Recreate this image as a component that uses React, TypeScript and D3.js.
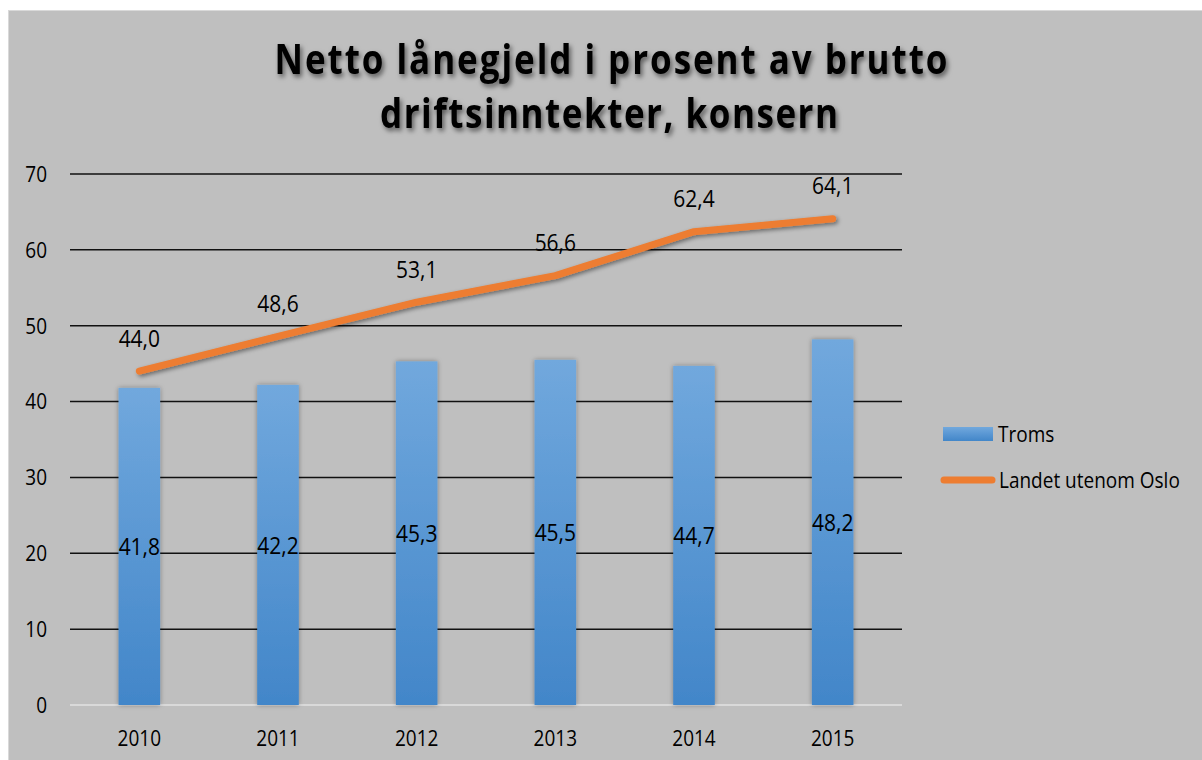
import React from "react";
import * as d3 from "d3";

const years = ["2010", "2011", "2012", "2013", "2014", "2015"];
const troms = [41.8, 42.2, 45.3, 45.5, 44.7, 48.2];
const landet = [44.0, 48.6, 53.1, 56.6, 62.4, 64.1];
const yTicks = [0, 10, 20, 30, 40, 50, 60, 70];
const titleLines = ["Netto lånegjeld i prosent av brutto", "driftsinntekter, konsern"];
const seriesNames = ["Troms", "Landet utenom Oslo"];

const W = 1202;
const H = 760;
const FONT = "'Open Sans', 'DejaVu Sans', sans-serif";
const SY = 1.15;

function T(props: {
  x: number;
  y: number;
  anchor?: "start" | "middle" | "end";
  size: number;
  children: React.ReactNode;
  middle?: boolean;
}) {
  const { x, y, anchor = "start", size, children, middle = true } = props;
  return (
    <text
      transform={`translate(${x},${y}) scale(1,${SY})`}
      dy={middle ? "0.36em" : undefined}
      textAnchor={anchor}
      fontFamily={FONT}
      fontSize={size}
      fill="#000"
    >
      {children}
    </text>
  );
}

export default function App() {
  const x = d3.scaleBand<string>().domain(years).range([70, 902]).paddingInner(0.7).paddingOuter(0.35);
  const y = d3.scaleLinear().domain([0, 70]).range([705, 174]);
  const fmt = (v: number) => v.toFixed(1).replace(".", ",");
  const cx = (yr: string) => (x(yr) as number) + x.bandwidth() / 2;
  const line = d3
    .line<number>()
    .x((_, i) => cx(years[i]))
    .y((d) => y(d))
    .curve(d3.curveLinear);

  return (
    <svg
      width={W}
      height={H}
      style={{ position: "absolute", left: 0, top: 0, display: "block" }}
      xmlns="http://www.w3.org/2000/svg"
    >
      <defs>
        <linearGradient id="barGrad" x1="0" y1="0" x2="0" y2="1">
          <stop offset="0%" stopColor="#71a8dd" />
          <stop offset="100%" stopColor="#4286c9" />
        </linearGradient>
        <filter id="shadow" x="-20%" y="-20%" width="140%" height="140%">
          <feDropShadow dx="2" dy="2" stdDeviation="2" floodColor="#000" floodOpacity="0.45" />
        </filter>
        <filter id="barShadow" x="-30%" y="-5%" width="160%" height="110%">
          <feDropShadow dx="0" dy="0" stdDeviation="2.5" floodColor="#000" floodOpacity="0.35" />
        </filter>
        <filter id="titleShadow" x="-5%" y="-20%" width="110%" height="150%">
          <feDropShadow dx="2" dy="3" stdDeviation="2.5" floodColor="#000" floodOpacity="0.55" />
        </filter>
      </defs>
      <rect x={0} y={0} width={W} height={H} fill="#ffffff" />
      <rect x={8.5} y={10.5} width={W} height={H} fill="#bfbfbf" stroke="#d9d9d9" strokeWidth={1} />

      {/* title */}
      <g filter="url(#titleShadow)" fontFamily={FONT} fontWeight={700} fontSize={35} fill="#000">
        <text
          transform={`translate(611,74) scale(1,1.2)`}
          textAnchor="middle"
          textLength={673}
          lengthAdjust="spacing"
        >
          {titleLines[0]}
        </text>
        <text
          transform={`translate(609,128) scale(1,1.2)`}
          textAnchor="middle"
          textLength={458}
          lengthAdjust="spacing"
        >
          {titleLines[1]}
        </text>
      </g>

      {/* gridlines */}
      {yTicks.map((t) => (
        <line
          key={t}
          x1={70}
          x2={902}
          y1={y(t)}
          y2={y(t)}
          stroke={t === 0 ? "#d9d9d9" : "#111"}
          strokeWidth={t === 0 ? 2 : 1.5}
        />
      ))}
      {yTicks.map((t) => (
        <T key={"l" + t} x={47} y={y(t)} anchor="end" size={19}>
          {t}
        </T>
      ))}

      {/* bars */}
      <g filter="url(#barShadow)">
        {troms.map((v, i) => (
          <rect
            key={years[i]}
            x={x(years[i])}
            y={y(v)}
            width={x.bandwidth()}
            height={y(0) - y(v)}
            fill="url(#barGrad)"
          />
        ))}
      </g>
      {troms.map((v, i) => (
        <T key={"tb" + i} x={cx(years[i])} y={y(v / 2)} anchor="middle" size={21}>
          {fmt(v)}
        </T>
      ))}

      {/* line */}
      <path
        d={line(landet) as string}
        fill="none"
        stroke="#ed7d31"
        strokeWidth={7}
        strokeLinecap="round"
        strokeLinejoin="round"
        filter="url(#shadow)"
      />
      {landet.map((v, i) => (
        <T key={"ll" + i} x={cx(years[i])} y={y(v) - 33} anchor="middle" size={21}>
          {fmt(v)}
        </T>
      ))}

      {/* x labels */}
      {years.map((yr) => (
        <T key={"x" + yr} x={cx(yr)} y={738} anchor="middle" size={19}>
          {yr}
        </T>
      ))}

      {/* legend */}
      <rect x={943} y={427} width={50} height={14} fill="url(#barGrad)" />
      <T x={998} y={434} size={19}>
        {seriesNames[0]}
      </T>
      <line x1={944} x2={992} y1={480} y2={480} stroke="#ed7d31" strokeWidth={7} strokeLinecap="round" />
      <T x={999} y={480} size={19}>
        {seriesNames[1]}
      </T>
    </svg>
  );
}
